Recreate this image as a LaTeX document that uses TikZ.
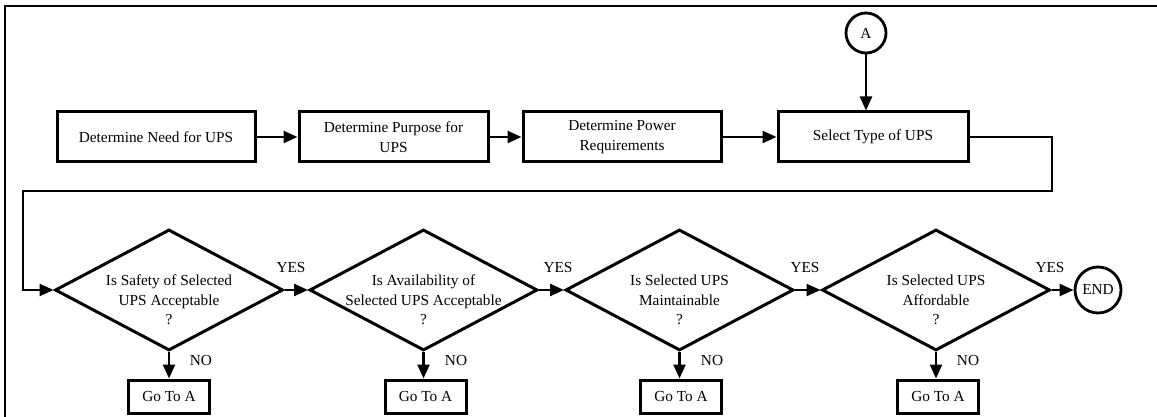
\documentclass[tikz,border=0pt]{standalone}
\usepackage{fontspec}
\setmainfont{Liberation Serif}
\usetikzlibrary{shapes.geometric,arrows.meta}
\begin{document}
\begin{tikzpicture}[x=1pt,y=-1pt,
  every node/.style={font={\fontsize{15.3}{19.5}\selectfont}},
  box/.style={draw,line width=3pt,inner sep=0pt,align=center},
  dia/.style={draw,diamond,line width=3pt,inner sep=0pt,minimum width=228pt,minimum height=121pt},
  circ/.style={draw,circle,line width=2.8pt,inner sep=0pt},
  conn/.style={line width=2.4pt,-{Triangle[length=14pt,width=12pt]}},
  lbl/.style={inner sep=0pt},
  dtext/.style={align=center,inner sep=0pt}
]
\useasboundingbox (0,0) rectangle (1157,417);
\draw[line width=2.4pt] (5,420) -- (5,6) -- (1160,6);

% top row
\node[box,minimum width=198pt,minimum height=50pt] (b1) at (156,137) {Determine Need for UPS};
\node[box,minimum width=189pt,minimum height=50pt] (b2) at (393.5,137) {Determine Purpose for\\UPS};
\node[box,minimum width=198pt,minimum height=50pt] (b3) at (622,137) {Determine Power\\Requirements};
\node[box,minimum width=190pt,minimum height=50pt] (b4) at (873,137) {Select Type of UPS};
\node[circ,minimum size=40pt] (A) at (866,33) {A};

\draw[conn] (A) -- (A |- b4.north);
\draw[conn] (b1.east) -- (b2.west);
\draw[conn] (b2.east) -- (b3.west);
\draw[conn] (b3.east) -- (b4.west);

% decisions
\node[dia] (d1) at (169,290) {};
\node[dia] (d2) at (423.5,290) {};
\node[dia] (d3) at (679.5,290) {};
\node[dia] (d4) at (936,290) {};
\node[dtext] (t1) at (169,300) {Is Safety of Selected\\UPS Acceptable\\?};
\node[dtext] (t2) at (423.5,300) {Is Availability of\\Selected UPS Acceptable\\?};
\node[dtext] (t3) at (679.5,300) {Is Selected UPS\\Maintainable\\?};
\node[dtext] (t4) at (936,300) {Is Selected UPS\\Affordable\\?};
\node[circ,minimum size=46pt] (E) at (1098,290) {END};

\coordinate (c1) at (1052,191);
\coordinate (c2) at (23,191);
\draw[conn] (b4.east) -| (c1) -- (c2) |- (d1.west);

\draw[conn] (d1.east) -- (d2.west);
\draw[conn] (d2.east) -- (d3.west);
\draw[conn] (d3.east) -- (d4.west);
\draw[conn] (d4.east) -- (E.west);

\node[lbl] (y1) at (291,268) {YES};
\node[lbl] (y2) at (558,268) {YES};
\node[lbl] (y3) at (805,268) {YES};
\node[lbl] (y4) at (1050,268) {YES};

% Go To A boxes
\node[box,minimum width=81pt,minimum height=33pt] (g1) at (169,396.5) {Go To A};
\node[box,minimum width=81pt,minimum height=33pt] (g2) at (425.5,396.5) {Go To A};
\node[box,minimum width=81pt,minimum height=33pt] (g3) at (681,396.5) {Go To A};
\node[box,minimum width=81pt,minimum height=33pt] (g4) at (938,396.5) {Go To A};
\draw[conn] (d1.south) -- (d1.south |- g1.north);
\draw[conn] (d2.south) -- (d2.south |- g2.north);
\draw[conn] (d3.south) -- (d3.south |- g3.north);
\draw[conn] (d4.south) -- (d4.south |- g4.north);

\node[lbl] (n1) at (201,361) {NO};
\node[lbl] (n2) at (456,361) {NO};
\node[lbl] (n3) at (712,361) {NO};
\node[lbl] (n4) at (968,361) {NO};
\end{tikzpicture}
\end{document}
